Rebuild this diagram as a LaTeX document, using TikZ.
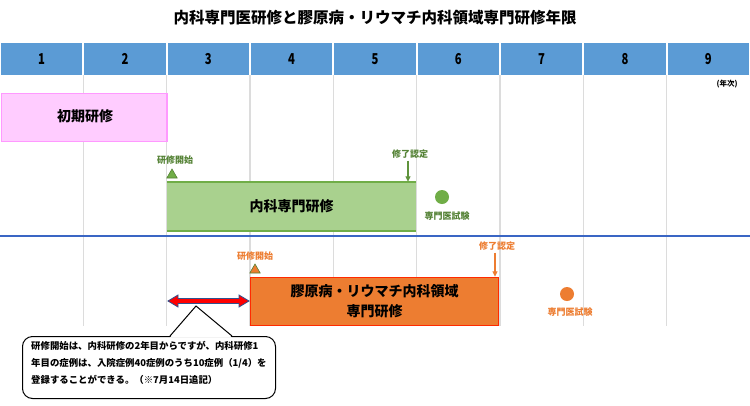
\documentclass[tikz,border=0pt]{standalone}
\usepackage{fontspec}
\usepackage{graphicx}
\setmainfont{Noto Sans CJK JP}
\usetikzlibrary{arrows.meta,shapes.geometric,calc}
\definecolor{hdr}{HTML}{5B9BD5}
\definecolor{gridc}{HTML}{DCDCDC}
\definecolor{pinkfill}{HTML}{FFCCFF}
\definecolor{pinkline}{HTML}{FF99FF}
\definecolor{greenfill}{HTML}{A9D18E}
\definecolor{greenline}{HTML}{70AD47}
\definecolor{greentext}{HTML}{548235}
\definecolor{orangefill}{HTML}{ED7D31}
\definecolor{orangeline}{HTML}{FF2A00}
\definecolor{orangetext}{HTML}{ED7D31}
\definecolor{blueline}{HTML}{3A66C4}
\definecolor{arrowblue}{HTML}{2F528F}
\tikzset{
  hdrcell/.style={fill=hdr,minimum width=81.3pt,minimum height=32pt,font=\fontsize{15}{17}\selectfont\bfseries},
  gridline/.style={draw=gridc,line width=1.5pt},
  bigtext/.style={font=\fontsize{14}{20}\selectfont\bfseries},
  smalllabel/.style={font=\fontsize{9}{11}\selectfont\bfseries},
  marker/.style={regular polygon,regular polygon sides=3,minimum size=12pt,inner sep=0pt},
  dot/.style={circle,minimum size=14pt,inner sep=0pt},
  downarrow/.style={line width=1.1pt,-{Triangle[length=5.5pt,width=5pt]}},
}
\begin{document}
\begin{tikzpicture}[x=1pt,y=-1pt,every node/.style={inner sep=0pt}]
\useasboundingbox (0,0) rectangle (750,405);
\fill[white] (0,0) rectangle (750,405);
% title
\node[font=\fontsize{15.5}{18}\selectfont\bfseries] (title) at (375,18) {内科専門医研修と膠原病・リウマチ内科領域専門研修年限};
% grid lines
\foreach \i in {1,...,8} {\draw[gridline] ({\i*83.333},75) -- ({\i*83.333},326);}
% header
\foreach \i in {1,...,9} {\node[hdrcell] (h\i) at ({(\i-0.5)*83.333},59) {\scalebox{0.75}[1]{\i}};}
\node[font=\fontsize{7.5}{9}\selectfont\bfseries] (unit) at (727,84) {(年次)};
% initial training
\node[fill=pinkfill,draw=pinkline,line width=1.5pt,minimum width=165.5pt,minimum height=48pt,anchor=north west,bigtext] (pbox) at (0.75,92.5) {};
\node[bigtext] (ptext) at (85,116) {初期研修};
% internal medicine
\node[smalllabel,text=greentext] (gstart) at (175,160) {研修開始};
\node[marker,fill=greenline,draw=greentext,line width=0.6pt] (gtri) at (172,175) {};
\node[fill=greenfill,minimum width=249pt,minimum height=49pt,bigtext] (gbox) at (291.5,206.5) {内科専門研修};
\draw[greenline,line width=1.5pt] (gbox.north west) -- (gbox.north east);
\draw[greenline,line width=1.5pt] (gbox.south west) -- (gbox.south east);
\node[smalllabel,text=greentext] (gend) at (410,154) {修了認定};
\draw[downarrow,greenline!85!black] ([xshift=-2pt,yshift=-2pt]gend.south) -- ([xshift=-2pt]gend.south |- gbox.north);
\node[dot,fill=greenline] (gdot) at (442,197) {};
\node[smalllabel,text=greentext] (gexam) at (447,216) {専門医試験};
% divider
\draw[blueline,line width=2pt] (0,236) -- (750,236);
% rheumatology
\node[smalllabel,text=orangetext] (ostart) at (255,256) {研修開始};
\node[marker,fill=orangefill,draw=greentext,line width=0.6pt] (otri) at (255,270) {};
\node[fill=orangefill,draw=orangeline,line width=1.5pt,minimum width=248pt,minimum height=48pt,bigtext,align=center] (obox) at (374.5,301.5) {膠原病・リウマチ内科領域\\専門研修};
\node[smalllabel,text=orangetext] (oend) at (497,246) {修了認定};
\draw[downarrow,orangefill] ([xshift=-2pt,yshift=-2pt]oend.south) -- ([xshift=-2pt]oend.south |- obox.north);
\node[dot,fill=orangefill] (odot) at (567,294) {};
\node[smalllabel,text=orangetext] (oexam) at (570,312) {専門医試験};
% red double arrow
\coordinate (ra) at (168,301);
\coordinate (rb) at (249,301);
\filldraw[fill=red,draw=arrowblue,line width=0.8pt,line join=miter]
  (ra) -- ++(10,-6) -- ++(0,3.5) -- ($(rb)+(-10,-2.5)$) -- ++(0,-3.5) -- (rb) -- ++(-10,6) -- ++(0,-3.5) -- ($(ra)+(10,2.5)$) -- ++(0,3.5) -- cycle;
% callout
\node[draw=black,line width=1pt,fill=white,rounded corners=10pt,minimum width=253pt,minimum height=62pt,anchor=north west] (note) at (22,336) {};
\coordinate (tip) at (196,306);
\fill[white] (170,337.5) -- (tip) -- (232,337.5) -- cycle;
\draw[black,line width=1pt,line join=miter] (170,336) -- (tip) -- (232,336);
\node[anchor=north west,align=left,font=\fontsize{9.4}{17}\selectfont\bfseries] (notetext) at (31,341) {研修開始は、内科研修の2年目からですが、内科研修1\\年目の症例は、入院症例40症例のうち10症例（1/4）を\\登録することができる。（※7月14日追記）};
\end{tikzpicture}
\end{document}
